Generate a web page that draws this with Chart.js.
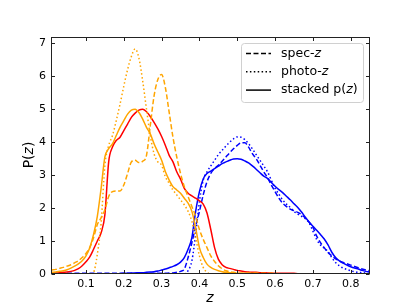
<!DOCTYPE html>
<html>
<head>
<meta charset="utf-8">
<script src="https://cdn.jsdelivr.net/npm/chart.js@4.4.1/dist/chart.umd.min.js"></script>
<style>
  html, body { margin: 0; padding: 0; background: #fff; }
</style>
</head>
<body>
<canvas id="pz" width="411" height="308"></canvas>
<script>
// redshift grid shared by all curves
const zGrid = [
  0.01, 0.02, 0.03, 0.04, 0.05, 0.06, 0.07, 0.08, 0.09, 0.10,
  0.11, 0.12, 0.13, 0.14, 0.15, 0.16, 0.17, 0.18, 0.19, 0.20,
  0.21, 0.22, 0.23, 0.24, 0.25, 0.26, 0.27, 0.28, 0.29, 0.30,
  0.31, 0.32, 0.33, 0.34, 0.35, 0.36, 0.37, 0.38, 0.39, 0.40,
  0.41, 0.42, 0.43, 0.44, 0.45, 0.46, 0.47, 0.48, 0.49, 0.50,
  0.51, 0.52, 0.53, 0.54, 0.55, 0.56, 0.57, 0.58, 0.59, 0.60,
  0.61, 0.62, 0.63, 0.64, 0.65, 0.66, 0.67, 0.68, 0.69, 0.70,
  0.71, 0.72, 0.73, 0.74, 0.75, 0.76, 0.77, 0.78, 0.79, 0.80,
  0.81, 0.82, 0.83, 0.84, 0.85
];

// low-z sample (orange / red)
const specLow = [
  0.12, 0.14, 0.17, 0.20, 0.24, 0.28, 0.34, 0.40, 0.50, 0.62,
  0.80, 1.10, 1.50, 1.70, 1.95, 2.35, 2.50, 2.52, 2.52, 2.70,
  3.05, 3.40, 3.45, 3.38, 3.42, 3.60, 4.50, 5.40, 5.90, 6.05,
  5.65, 4.90, 4.15, 3.55, 3.05, 2.65, 2.35, 2.05, 1.75, 1.35,
  1.05, 0.80, 0.55, 0.38, 0.25, 0.16, 0.10, 0.07, 0.05, 0.03,
  0.02, 0.02, 0.02, 0.02, 0.02, 0.02, 0.02, 0.02, 0.02, 0.02,
  0.01, 0.01, 0.01, 0.01, 0.01, 0.01, 0.01, 0.01, 0.01, 0.01,
  0.01, 0.01, 0.01, 0.01, 0.01, 0.01, 0.01, 0.01, 0.01, 0.01,
  0.01, 0.01, 0.01, 0.01, 0.01
];
const photoLow = [
  0, 0, 0, 0, 0, 0, 0, 0, 0, 0,
  0, 0.05, 0.60, 1.55, 3.30, 3.90, 4.20, 4.65, 5.15, 5.70,
  6.20, 6.60, 6.83, 6.55, 5.85, 5.00, 4.20, 3.65, 3.40, 3.30,
  2.95, 2.75, 2.55, 2.40, 2.25, 2.10, 1.90, 1.60, 1.10, 0.55,
  0.20, 0.05, 0, 0, 0, 0, 0, 0, 0, 0,
  0, 0, 0, 0, 0, 0, 0, 0, 0, 0,
  0, 0, 0, 0, 0, 0, 0, 0, 0, 0,
  0, 0, 0, 0, 0, 0, 0, 0, 0, 0,
  0, 0, 0, 0, 0
];
const stackLow = [
  0.05, 0.06, 0.08, 0.10, 0.13, 0.18, 0.24, 0.31, 0.40, 0.55,
  0.80, 1.20, 1.75, 2.60, 3.55, 3.80, 3.95, 4.20, 4.45, 4.65,
  4.85, 4.97, 5.00, 4.90, 4.70, 4.45, 4.25, 3.95, 3.70, 3.45,
  3.10, 2.85, 2.65, 2.55, 2.45, 2.30, 2.15, 1.90, 1.40, 0.80,
  0.50, 0.30, 0.20, 0.14, 0.10, 0.07, 0.05, 0.04, 0.03, 0.02,
  0.02, 0.02, 0.02, 0.02, 0.02, 0.01, 0.01, 0.01, 0.01, 0.01,
  0.01, 0.01, 0.01, 0.01, 0.01, 0.01, 0.01, 0.01, 0.01, 0.01,
  0.01, 0.01, 0.01, 0.01, 0.01, 0.01, 0.01, 0.01, 0.01, 0.01,
  0.01, 0.01, 0.01, 0.01, 0.01
];
const stackRed = [
  0.02, 0.03, 0.04, 0.05, 0.06, 0.08, 0.11, 0.16, 0.25, 0.37,
  0.52, 0.75, 1.00, 1.25, 1.80, 3.40, 3.85, 4.05, 4.15, 4.35,
  4.55, 4.75, 4.88, 4.97, 5.00, 4.92, 4.78, 4.60, 4.40, 4.17,
  3.90, 3.60, 3.40, 3.10, 2.88, 2.60, 2.45, 2.37, 2.30, 2.22,
  2.12, 1.85, 1.35, 0.80, 0.45, 0.28, 0.20, 0.17, 0.14, 0.11,
  0.09, 0.07, 0.06, 0.05, 0.05, 0.04, 0.04, 0.03, 0.03, 0.02,
  0.02, 0.02, 0.02, 0.02, 0.02, 0.01, 0.01, 0.01, 0.01, 0.01,
  0.01, 0.01, 0.01, 0.01, 0.01, 0.01, 0.01, 0.01, 0.01, 0.01,
  0.01, 0.01, 0.01, 0.01, 0.01
];

// high-z sample (blue)
const specHigh = [
  0.02, 0.02, 0.02, 0.02, 0.02, 0.02, 0.02, 0.02, 0.02, 0.02,
  0.02, 0.02, 0.02, 0.02, 0.02, 0.02, 0.02, 0.02, 0.02, 0.02,
  0.02, 0.02, 0.02, 0.02, 0.02, 0.02, 0.02, 0.02, 0.02, 0.02,
  0.02, 0.03, 0.03, 0.05, 0.08, 0.15, 0.50, 0.95, 1.45, 1.90,
  2.40, 2.80, 3.05, 3.20, 3.30, 3.42, 3.55, 3.68, 3.80, 3.90,
  3.98, 3.98, 3.85, 3.65, 3.50, 3.30, 3.10, 2.92, 2.70, 2.50,
  2.30, 2.15, 2.05, 1.97, 1.92, 1.87, 1.80, 1.70, 1.57, 1.42,
  1.15, 0.95, 0.80, 0.65, 0.55, 0.46, 0.40, 0.35, 0.31, 0.27,
  0.23, 0.19, 0.15, 0.12, 0.10
];
const photoHigh = [
  0, 0, 0, 0, 0, 0, 0, 0, 0, 0,
  0, 0, 0, 0, 0, 0, 0, 0, 0, 0,
  0, 0, 0, 0, 0, 0, 0, 0, 0, 0,
  0, 0, 0, 0, 0, 0, 0.10, 0.40, 1.20, 2.20,
  2.85, 3.10, 3.28, 3.45, 3.62, 3.75, 3.88, 4.00, 4.10, 4.16,
  4.15, 4.08, 3.95, 3.80, 3.62, 3.45, 3.28, 3.10, 2.85, 2.60,
  2.42, 2.25, 2.12, 2.02, 1.90, 1.82, 1.75, 1.68, 1.55, 1.30,
  1.05, 0.88, 0.78, 0.68, 0.50, 0.35, 0.25, 0.18, 0.14, 0.10,
  0.07, 0.05, 0.04, 0.03, 0.02
];
const stackHigh = [
  0.01, 0.01, 0.01, 0.01, 0.01, 0.01, 0.01, 0.01, 0.01, 0.01,
  0.01, 0.01, 0.01, 0.01, 0.01, 0.01, 0.01, 0.01, 0.01, 0.02,
  0.02, 0.03, 0.03, 0.04, 0.04, 0.05, 0.06, 0.07, 0.09, 0.12,
  0.15, 0.19, 0.23, 0.28, 0.36, 0.50, 0.75, 1.10, 1.90, 2.50,
  2.88, 3.05, 3.12, 3.20, 3.27, 3.35, 3.40, 3.45, 3.49, 3.50,
  3.48, 3.43, 3.37, 3.28, 3.18, 3.07, 2.97, 2.90, 2.78, 2.66,
  2.56, 2.47, 2.36, 2.25, 2.13, 2.02, 1.88, 1.72, 1.58, 1.45,
  1.33, 1.20, 1.06, 0.88, 0.66, 0.50, 0.40, 0.33, 0.27, 0.22,
  0.18, 0.15, 0.11, 0.08, 0.06
];

const xTicks = [0.1, 0.2, 0.3, 0.4, 0.5, 0.6, 0.7, 0.8];
const yTicks = [0, 1, 2, 3, 4, 5, 6, 7];

const DASHED = [5, 2.5];
const DOTTED = [1.5, 2.4];
const FONT = "'DejaVu Sans', sans-serif";

const pts = arr => zGrid.map((z, i) => ({ x: z, y: arr[i] }));

function line(data, color, dash) {
    return {
        data: pts(data),
        borderColor: color,
        borderWidth: 1.5,
        borderDash: dash,
        borderCapStyle: 'butt',
        pointRadius: 0,
        fill: false,
        cubicInterpolationMode: 'monotone'
    };
}

// write text made of normal / italic pieces
function richText(ctx, parts, x, y, size) {
    let cx = x;
    parts.forEach(p => {
        ctx.font = (p.it ? 'italic ' : '') + size + 'px ' + FONT;
        ctx.fillText(p.t, cx, y);
        cx += ctx.measureText(p.t).width;
    });
}
function richWidth(ctx, parts, size) {
    let w = 0;
    parts.forEach(p => {
        ctx.font = (p.it ? 'italic ' : '') + size + 'px ' + FONT;
        w += ctx.measureText(p.t).width;
    });
    return w;
}

const frameTicks = {
    id: 'frameTicks',
    afterDatasetsDraw(chart) {
        const { ctx, chartArea: a, scales: { x, y } } = chart;
        const L = Math.round(a.left) + 0.5, R = Math.round(a.right) - 0.5;
        const T = Math.round(a.top) + 0.5, B = Math.round(a.bottom) - 0.5;
        ctx.save();
        ctx.strokeStyle = '#222';
        ctx.lineWidth = 1;
        ctx.setLineDash([]);
        ctx.strokeRect(L, T, R - L, B - T);
        ctx.beginPath();
        xTicks.forEach(v => {
            const px = Math.round(x.getPixelForValue(v)) + 0.5;
            ctx.moveTo(px, B); ctx.lineTo(px, B - 3.5);
            ctx.moveTo(px, T); ctx.lineTo(px, T + 3.5);
        });
        yTicks.forEach(v => {
            const py = Math.round(y.getPixelForValue(v)) + 0.5;
            ctx.moveTo(L, py); ctx.lineTo(L + 3.5, py);
            ctx.moveTo(R, py); ctx.lineTo(R - 3.5, py);
        });
        ctx.stroke();
        ctx.restore();
    }
};

const legendItems = [
    { parts: [{ t: 'spec-' }, { t: 'z', it: true }], dash: DASHED },
    { parts: [{ t: 'photo-' }, { t: 'z', it: true }], dash: DOTTED },
    { parts: [{ t: 'stacked p(' }, { t: 'z', it: true }, { t: ')' }], dash: [] }
];

const boxLegend = {
    id: 'boxLegend',
    afterDraw(chart) {
        const ctx = chart.ctx;
        ctx.save();
        // frame
        ctx.beginPath();
        ctx.roundRect(241.5, 43.5, 122, 59, 3);
        ctx.fillStyle = 'rgba(255,255,255,0.8)';
        ctx.fill();
        ctx.strokeStyle = '#d0d0d0';
        ctx.lineWidth = 1;
        ctx.stroke();
        // rows
        legendItems.forEach((it, i) => {
            const yy = 53.5 + i * 18.3;
            ctx.beginPath();
            ctx.setLineDash(it.dash);
            ctx.strokeStyle = '#000';
            ctx.lineWidth = 1.5;
            ctx.moveTo(246, yy);
            ctx.lineTo(271, yy);
            ctx.stroke();
            ctx.setLineDash([]);
            ctx.fillStyle = '#000';
            ctx.textBaseline = 'middle';
            richText(ctx, it.parts, 281, yy, 12.5);
        });
        ctx.restore();
    }
};

const axisTitles = {
    id: 'axisTitles',
    afterDraw(chart) {
        const ctx = chart.ctx;
        ctx.save();
        ctx.fillStyle = '#000';
        ctx.textBaseline = 'middle';
        ctx.textAlign = 'left';
        const xt = [{ t: 'z', it: true }];
        const xw = richWidth(ctx, xt, 14);
        richText(ctx, xt, 210 - xw / 2, 298, 14);
        const yt = [{ t: 'P(' }, { t: 'z', it: true }, { t: ')' }];
        const yw = richWidth(ctx, yt, 14);
        ctx.translate(29, 155);
        ctx.rotate(-Math.PI / 2);
        richText(ctx, yt, -yw / 2, 0, 14);
        ctx.restore();
    }
};

new Chart(document.getElementById('pz'), {
    type: 'line',
    data: {
        datasets: [
            line(specLow, '#FFA500', DASHED),
            line(photoLow, '#FFA500', DOTTED),
            line(stackLow, '#FFA500', []),
            line(stackRed, '#FF0000', []),
            line(specHigh, '#0000FF', DASHED),
            line(photoHigh, '#0000FF', DOTTED),
            line(stackHigh, '#0000FF', [])
        ]
    },
    options: {
        responsive: false,
        devicePixelRatio: 1,
        animation: false,
        layout: { padding: { left: 0, top: 37, right: 41, bottom: 0 } },
        plugins: {
            legend: { display: false },
            tooltip: { enabled: false }
        },
        scales: {
            x: {
                type: 'linear',
                min: 0.0075,
                max: 0.851,
                grid: { display: false, drawTicks: false },
                border: { display: false },
                afterBuildTicks: s => { s.ticks = xTicks.map(v => ({ value: v })); },
                afterFit: s => { s.height = 34; },
                ticks: {
                    color: '#000',
                    padding: 4,
                    maxRotation: 0,
                    autoSkip: false,
                    font: { family: FONT, size: 11 },
                    callback: v => v.toFixed(1)
                }
            },
            y: {
                min: 0,
                max: 7.19,
                grid: { display: false, drawTicks: false },
                border: { display: false },
                afterBuildTicks: s => { s.ticks = yTicks.map(v => ({ value: v })); },
                afterFit: s => { s.width = 51; },
                ticks: {
                    color: '#000',
                    padding: 5,
                    font: { family: FONT, size: 11 },
                    callback: v => String(v)
                }
            }
        }
    },
    plugins: [frameTicks, boxLegend, axisTitles]
});
</script>
</body>
</html>
